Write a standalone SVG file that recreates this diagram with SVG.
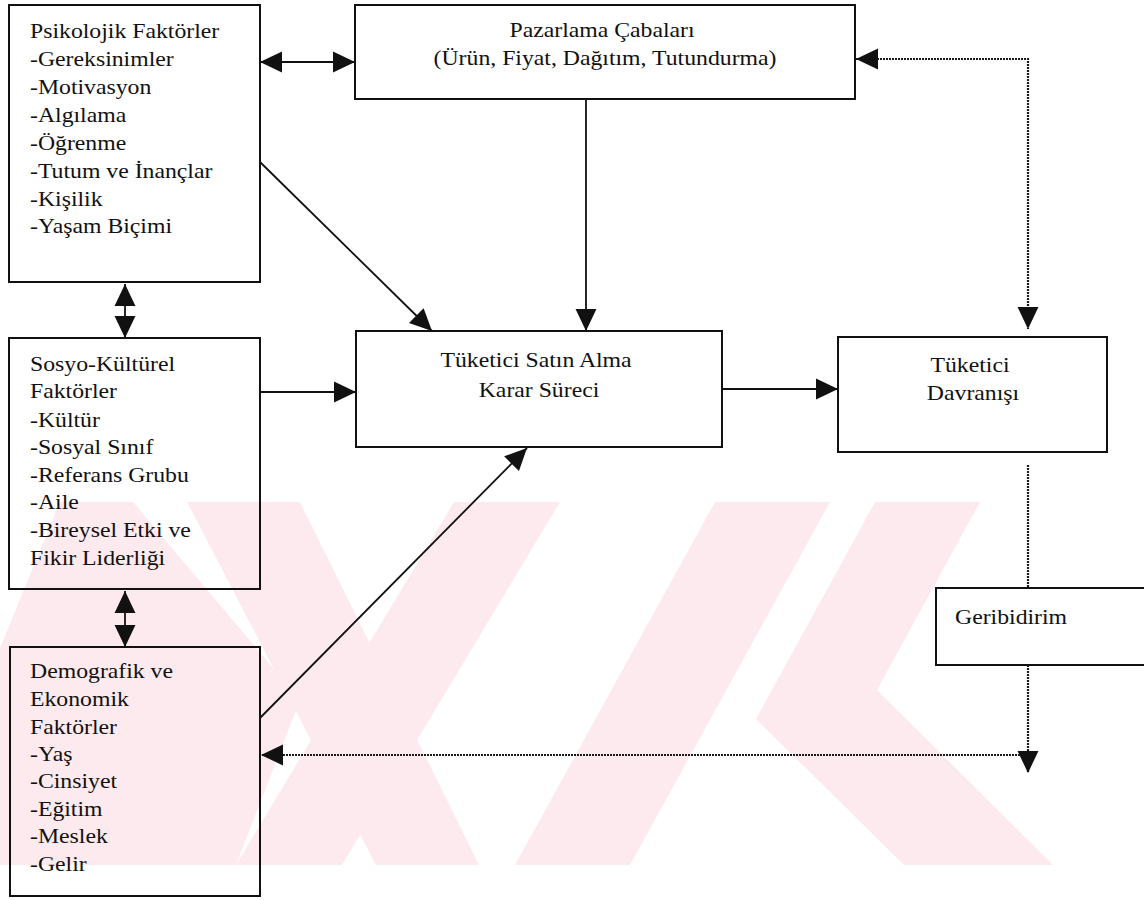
<svg xmlns="http://www.w3.org/2000/svg" width="1144" height="900" viewBox="0 0 1144 900">
  <style>
    .box { fill: none; stroke: #111; stroke-width: 2; }
    .t { font-family: "Liberation Serif", "Times New Roman", serif; font-size: 22px; fill: #111; }
    .c { text-anchor: middle; }
    .ln { fill: none; stroke: #111; stroke-width: 1.8; }
    .dot { fill: none; stroke: #1a1a1a; stroke-width: 2.2; stroke-dasharray: 2 1; }
    .wm { fill: #fdeaee; }
  </style>
  <defs>
    <marker id="head" markerUnits="userSpaceOnUse" markerWidth="22" markerHeight="22" viewBox="0 0 20 20" refX="20" refY="10" orient="auto-start-reverse">
      <path d="M0,0.5 L20,10 L0,19.5 Z" fill="#111"/>
    </marker>
  </defs>

  <!-- background watermark bands -->
  <g id="watermark">
    <polygon class="wm" points="60,502 133,502 300,700 236,865 0,865 0,648"/>
    <polygon class="wm" points="187,502 300,502 479,865 376,865"/>
    <polygon class="wm" points="454,502 560,502 342,865 236,865"/>
    <polygon class="wm" points="715,502 830,502 630,865 515,865"/>
    <polygon class="wm" points="875,502 980,502 877,690 1053,865 904,865 756,719"/>
  </g>

  <!-- connectors -->
  <g id="connectors">
    <line class="ln" x1="260" y1="62" x2="355" y2="62" marker-start="url(#head)" marker-end="url(#head)"/>
    <line class="ln" x1="125" y1="284" x2="125" y2="338" marker-start="url(#head)" marker-end="url(#head)"/>
    <line class="ln" x1="125" y1="591" x2="125" y2="647" marker-start="url(#head)" marker-end="url(#head)"/>
    <line class="ln" x1="586" y1="99" x2="586" y2="331" marker-end="url(#head)"/>
    <line class="ln" x1="260" y1="162" x2="432" y2="331" marker-end="url(#head)"/>
    <line class="ln" x1="260" y1="392" x2="356" y2="392" marker-end="url(#head)"/>
    <line class="ln" x1="260" y1="718" x2="527" y2="448" marker-end="url(#head)"/>
    <line class="ln" x1="722" y1="389" x2="838" y2="389" marker-end="url(#head)"/>
    <path class="dot" d="M856,59 H1028 V329" marker-start="url(#head)" marker-end="url(#head)"/>
    <path class="dot" d="M1028,465 V588"/>
    <path class="dot" d="M1028,665 V773" marker-end="url(#head)"/>
    <path class="dot" d="M1020,755 H261" marker-end="url(#head)"/>
  </g>

  <g id="psikolojik">
    <rect class="box" x="9" y="5" width="251" height="277"/>
    <text class="t" transform="translate(30 0) scale(1.08 1)">
      <tspan x="0" y="38">Psikolojik Faktörler</tspan>
      <tspan x="0" y="66">-Gereksinimler</tspan>
      <tspan x="0" y="94">-Motivasyon</tspan>
      <tspan x="0" y="122">-Algılama</tspan>
      <tspan x="0" y="150">-Öğrenme</tspan>
      <tspan x="0" y="178">-Tutum ve İnançlar</tspan>
      <tspan x="0" y="206">-Kişilik</tspan>
      <tspan x="0" y="233">-Yaşam Biçimi</tspan>
    </text>
  </g>

  <g id="pazarlama">
    <rect class="box" x="355" y="5" width="500" height="94"/>
    <text class="t c" transform="translate(605 0) scale(1.08 1)">
      <tspan x="0" y="37">Pazarlama Çabaları</tspan>
      <tspan x="0" y="65">(Ürün, Fiyat, Dağıtım, Tutundurma)</tspan>
    </text>
  </g>

  <g id="sosyo-kulturel">
    <rect class="box" x="9" y="338" width="251" height="251"/>
    <text class="t" transform="translate(30 0) scale(1.08 1)">
      <tspan x="0" y="371">Sosyo-Kültürel</tspan>
      <tspan x="0" y="398">Faktörler</tspan>
      <tspan x="0" y="427">-Kültür</tspan>
      <tspan x="0" y="454">-Sosyal Sınıf</tspan>
      <tspan x="0" y="482">-Referans Grubu</tspan>
      <tspan x="0" y="509">-Aile</tspan>
      <tspan x="0" y="537">-Bireysel Etki ve</tspan>
      <tspan x="0" y="565">Fikir Liderliği</tspan>
    </text>
  </g>

  <g id="demografik">
    <rect class="box" x="10" y="647" width="250" height="249"/>
    <text class="t" transform="translate(30 0) scale(1.08 1)">
      <tspan x="0" y="678">Demografik ve</tspan>
      <tspan x="0" y="706">Ekonomik</tspan>
      <tspan x="0" y="734">Faktörler</tspan>
      <tspan x="0" y="761">-Yaş</tspan>
      <tspan x="0" y="788">-Cinsiyet</tspan>
      <tspan x="0" y="816">-Eğitim</tspan>
      <tspan x="0" y="843">-Meslek</tspan>
      <tspan x="0" y="871">-Gelir</tspan>
    </text>
  </g>

  <g id="karar-sureci">
    <rect class="box" x="356" y="331" width="366" height="116"/>
    <text class="t c" transform="translate(539 0) scale(1.08 1)">
      <tspan x="0" y="367">Tüketici Satın Alma</tspan>
      <tspan x="0" y="397">Karar Süreci</tspan>
    </text>
  </g>

  <g id="davranis">
    <rect class="box" x="838" y="337" width="269" height="115"/>
    <text class="t c" transform="translate(973 0) scale(1.08 1)">
      <tspan x="0" y="372">Tüketici</tspan>
      <tspan x="0" y="400">Davranışı</tspan>
    </text>
  </g>

  <g id="geribildirim">
    <path class="box" d="M1150,588 H936 V665 H1150"/>
    <text class="t" transform="translate(955 0) scale(1.08 1)">
      <tspan x="0" y="624">Geribidirim</tspan>
    </text>
  </g>
</svg>
